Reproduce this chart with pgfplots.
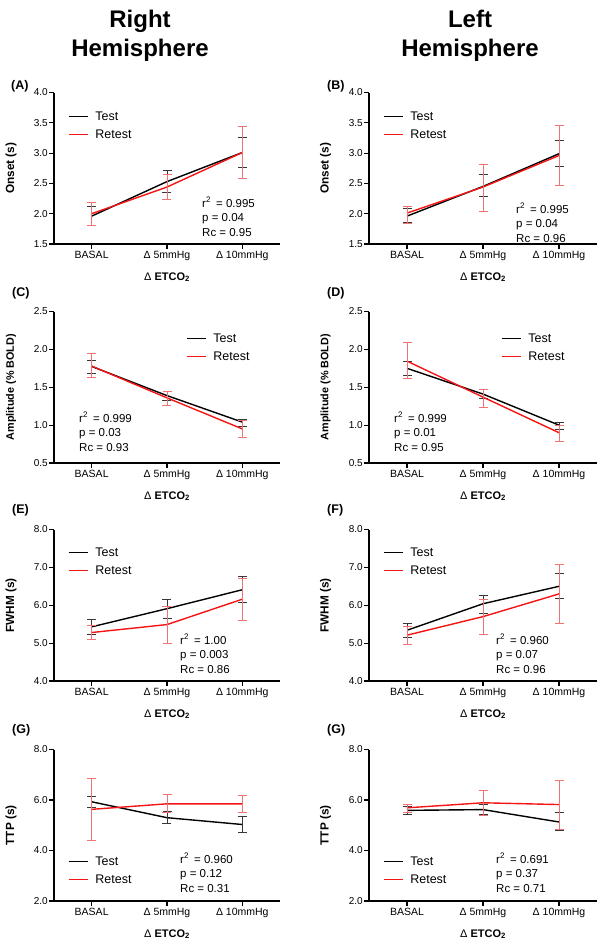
\documentclass[border=0pt]{standalone}
\usepackage{fontspec}
\setmainfont{Liberation Sans}
\usepackage{pgfplots}
\pgfplotsset{compat=1.18}
\definecolor{myred}{RGB}{245,20,20}
\definecolor{errred}{RGB}{238,115,115}
\definecolor{errblack}{RGB}{55,55,55}
\pgfplotsset{
  panel/.style={
    scale only axis, height=151.5pt,
    xmin=-0.5, xmax=2.5,
    axis lines*=left,
    axis line style={line width=1.1pt},
    tick align=outside, major tick length=5pt,
    every tick/.style={black, line width=1.1pt},
    xtick={0,1,2},
    xticklabels={BASAL,{Δ 5mmHg},{Δ 10mmHg}},
    xticklabel style={font=\fontsize{10.5}{12}\selectfont, inner sep=1pt, yshift=-1pt},
    yticklabel style={font=\fontsize{10}{12}\selectfont, inner sep=1pt,
      /pgf/number format/fixed, /pgf/number format/fixed zerofill, /pgf/number format/precision=1},
    /pgf/number format/assume math mode=true,
    xlabel={Δ \textbf{ETCO\textsubscript{2}}},
    xlabel style={at={(axis description cs:0.5,-0.218)}, anchor=center, font=\fontsize{11}{13}\selectfont},
    ylabel style={at={(axis description cs:-0.19,0.5)}, anchor=center, font=\bfseries\fontsize{11.8}{13}\selectfont},
    legend style={draw=none, fill=none, inner sep=0pt, outer sep=0pt,
      font=\fontsize{12.5}{15}\selectfont, row sep=8pt, nodes={inner sep=0pt}},
    legend image code/.code={\draw[#1, line width=1.4pt] (0pt,0pt) -- (19pt,0pt); \path (26pt,0pt);},
    legend cell align=left,
    every axis plot/.append style={no markers, line width=1.4pt},
  },
  leftcol/.style={width=226pt},
  rightcol/.style={width=228pt},
  test/.style={black, error bars/.cd, y dir=both, y explicit,
    error bar style={line width=0.9pt, errblack},
    error mark options={rotate=90, mark size=4.5pt, line width=0.9pt, errblack}},
  retest/.style={myred, error bars/.cd, y dir=both, y explicit,
    error bar style={line width=0.9pt, errred},
    error mark options={rotate=90, mark size=4.5pt, line width=0.9pt, errred}},
}
\newcommand{\stats}[5]{%
  \node[anchor=base west, inner sep=0pt, font=\fontsize{11.5}{14}\selectfont] at (#1pt,-#2pt) {r\textsuperscript{2}\ \,= #3};
  \node[anchor=base west, inner sep=0pt, font=\fontsize{11.5}{14}\selectfont, yshift=-14.5pt] at (#1pt,-#2pt) {p = #4};
  \node[anchor=base west, inner sep=0pt, font=\fontsize{11.5}{14}\selectfont, yshift=-29pt] at (#1pt,-#2pt) {Rc = #5};
}
\begin{document}
\begin{tikzpicture}
\useasboundingbox (0,0) rectangle (603pt,-946pt);
% titles
\node[anchor=base, font=\bfseries\fontsize{24}{28}\selectfont] at (140pt,-27pt) {Right};
\node[anchor=base, font=\bfseries\fontsize{24}{28}\selectfont] at (140pt,-56pt) {Hemisphere};
\node[anchor=base, font=\bfseries\fontsize{24}{28}\selectfont] at (470pt,-27pt) {Left};
\node[anchor=base, font=\bfseries\fontsize{24}{28}\selectfont] at (470pt,-56pt) {Hemisphere};
% panel labels
\foreach \lab/\px/\py in {(A)/11/89,(B)/327/89,(C)/12/296,(D)/327/296,(E)/12/513,(F)/327/513,(G)/12/733,(G)/327/733}{
  \node[anchor=base west, inner sep=0pt, font=\bfseries\fontsize{12.5}{15}\selectfont] at (\px pt,-\py pt) {\lab};
}

% (A) Right onset
\begin{axis}[panel, leftcol, at={(54pt,-244pt)}, anchor=south west,
  ymin=1.5, ymax=4.0, ytick={1.5,2.0,2.5,3.0,3.5,4.0}, ylabel={Onset (s)},
  legend style={at={(axis description cs:0.062,0.875)}, anchor=north west}]
\addplot[test] coordinates {(0,1.96) += (0,0.16) -= (0,0.16) (1,2.53) += (0,0.18) -= (0,0.18) (2,3.01) += (0,0.25) -= (0,0.24)};
\addplot[retest] coordinates {(0,2.00) += (0,0.19) -= (0,0.20) (1,2.44) += (0,0.21) -= (0,0.21) (2,3.01) += (0,0.43) -= (0,0.43)};
\legend{Test,Retest}
\end{axis}
% (B) Left onset
\begin{axis}[panel, rightcol, at={(369pt,-244pt)}, anchor=south west,
  ymin=1.5, ymax=4.0, ytick={1.5,2.0,2.5,3.0,3.5,4.0}, ylabel={Onset (s)},
  legend style={at={(axis description cs:0.061,0.875)}, anchor=north west}]
\addplot[test] coordinates {(0,1.96) += (0,0.12) -= (0,0.11) (1,2.45) += (0,0.19) -= (0,0.17) (2,2.99) += (0,0.22) -= (0,0.21)};
\addplot[retest] coordinates {(0,2.01) += (0,0.11) -= (0,0.17) (1,2.44) += (0,0.38) -= (0,0.40) (2,2.96) += (0,0.50) -= (0,0.49)};
\legend{Test,Retest}
\end{axis}
% (C) Right amplitude
\begin{axis}[panel, leftcol, at={(54pt,-463pt)}, anchor=south west,
  ymin=0.5, ymax=2.5, ytick={0.5,1.0,1.5,2.0,2.5}, ylabel={Amplitude (\% BOLD)},
  ylabel style={font=\bfseries\fontsize{10.8}{13}\selectfont},
  legend style={at={(axis description cs:0.584,0.855)}, anchor=north west}]
\addplot[test] coordinates {(0,1.775) += (0,0.085) -= (0,0.095) (1,1.39) += (0,0.06) -= (0,0.07) (2,1.04) += (0,0.04) -= (0,0.06)};
\addplot[retest] coordinates {(0,1.78) += (0,0.16) -= (0,0.155) (1,1.36) += (0,0.09) -= (0,0.10) (2,0.95) += (0,0.11) -= (0,0.11)};
\legend{Test,Retest}
\end{axis}
% (D) Left amplitude
\begin{axis}[panel, rightcol, at={(369pt,-463pt)}, anchor=south west,
  ymin=0.5, ymax=2.5, ytick={0.5,1.0,1.5,2.0,2.5}, ylabel={Amplitude (\% BOLD)},
  ylabel style={font=\bfseries\fontsize{10.8}{13}\selectfont},
  legend style={at={(axis description cs:0.579,0.855)}, anchor=north west}]
\addplot[test] coordinates {(0,1.75) += (0,0.095) -= (0,0.095) (1,1.41) += (0,0.06) -= (0,0.06) (2,1.00) += (0,0.04) -= (0,0.06)};
\addplot[retest] coordinates {(0,1.845) += (0,0.25) -= (0,0.23) (1,1.37) += (0,0.10) -= (0,0.13) (2,0.90) += (0,0.10) -= (0,0.12)};
\legend{Test,Retest}
\end{axis}
% (E) Right FWHM
\begin{axis}[panel, leftcol, at={(54pt,-681pt)}, anchor=south west,
  ymin=4, ymax=8, ytick={4,5,6,7,8}, ylabel={FWHM (s)},
  legend style={at={(axis description cs:0.062,0.881)}, anchor=north west}]
\addplot[test] coordinates {(0,5.43) += (0,0.19) -= (0,0.20) (1,5.91) += (0,0.24) -= (0,0.26) (2,6.41) += (0,0.34) -= (0,0.34)};
\addplot[retest] coordinates {(0,5.28) += (0,0.19) -= (0,0.19) (1,5.49) += (0,0.49) -= (0,0.50) (2,6.16) += (0,0.56) -= (0,0.56)};
\legend{Test,Retest}
\end{axis}
% (F) Left FWHM
\begin{axis}[panel, rightcol, at={(369pt,-681pt)}, anchor=south west,
  ymin=4, ymax=8, ytick={4,5,6,7,8}, ylabel={FWHM (s)},
  legend style={at={(axis description cs:0.061,0.881)}, anchor=north west}]
\addplot[test] coordinates {(0,5.34) += (0,0.18) -= (0,0.18) (1,6.04) += (0,0.23) -= (0,0.26) (2,6.50) += (0,0.34) -= (0,0.33)};
\addplot[retest] coordinates {(0,5.21) += (0,0.24) -= (0,0.24) (1,5.70) += (0,0.45) -= (0,0.47) (2,6.30) += (0,0.77) -= (0,0.77)};
\legend{Test,Retest}
\end{axis}
% (G) Right TTP
\begin{axis}[panel, leftcol, at={(54pt,-901pt)}, anchor=south west,
  ymin=2, ymax=8, ytick={2,4,6,8}, ylabel={TTP (s)},
  legend style={at={(axis description cs:0.062,0.294)}, anchor=north west}]
\addplot[test] coordinates {(0,5.93) += (0,0.23) -= (0,0.23) (1,5.30) += (0,0.23) -= (0,0.21) (2,5.03) += (0,0.30) -= (0,0.33)};
\addplot[retest] coordinates {(0,5.63) += (0,1.21) -= (0,1.25) (1,5.85) += (0,0.38) -= (0,0.36) (2,5.85) += (0,0.33) -= (0,0.33)};
\legend{Test,Retest}
\end{axis}
% (G) Left TTP
\begin{axis}[panel, rightcol, at={(369pt,-901pt)}, anchor=south west,
  ymin=2, ymax=8, ytick={2,4,6,8}, ylabel={TTP (s)},
  legend style={at={(axis description cs:0.061,0.294)}, anchor=north west}]
\addplot[test] coordinates {(0,5.59) += (0,0.14) -= (0,0.15) (1,5.62) += (0,0.20) -= (0,0.20) (2,5.13) += (0,0.36) -= (0,0.33)};
\addplot[retest] coordinates {(0,5.69) += (0,0.14) -= (0,0.20) (1,5.89) += (0,0.50) -= (0,0.49) (2,5.82) += (0,0.96) -= (0,0.97)};
\legend{Test,Retest}
\end{axis}

% statistics annotations
\stats{202}{207}{0.995}{0.04}{0.95}
\stats{516}{213}{0.995}{0.04}{0.96}
\stats{79}{422}{0.999}{0.03}{0.93}
\stats{394}{422}{0.999}{0.01}{0.95}
\stats{180}{644}{1.00}{0.003}{0.86}
\stats{496}{644}{0.960}{0.07}{0.96}
\stats{180}{863}{0.960}{0.12}{0.31}
\stats{496}{863}{0.691}{0.37}{0.71}
\end{tikzpicture}
\end{document}
